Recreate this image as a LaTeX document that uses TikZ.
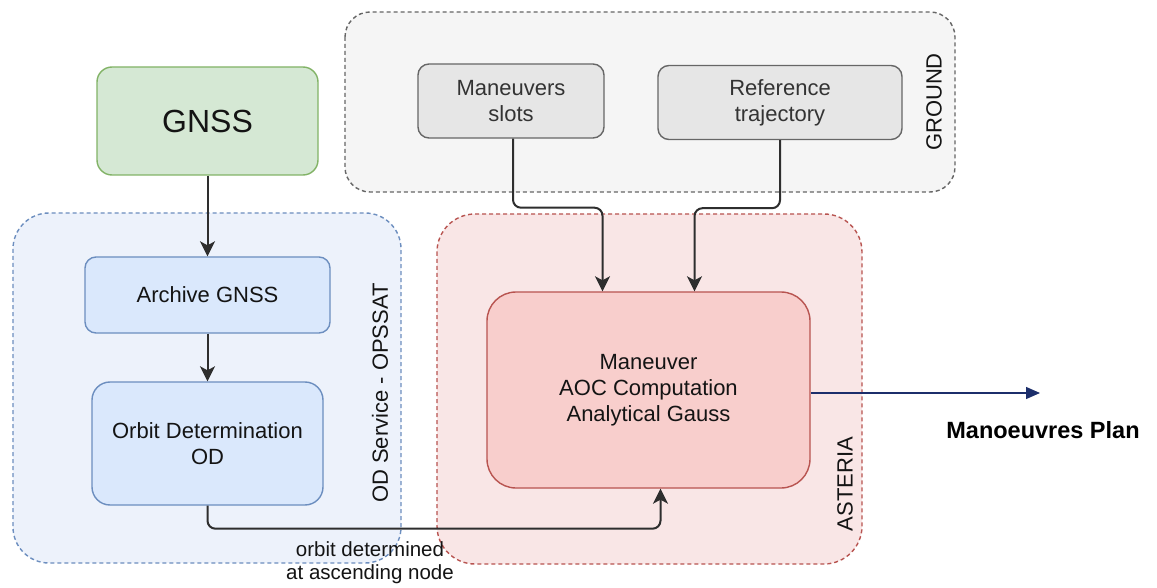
\documentclass[tikz,border=0pt]{standalone}
\usepackage{fontspec}
\setmainfont{Liberation Sans}
\usetikzlibrary{arrows.meta,calc}

\definecolor{greenfill}{HTML}{D5E8D4}
\definecolor{greenline}{HTML}{82B366}
\definecolor{bluefill}{HTML}{DAE8FC}
\definecolor{blueline}{HTML}{6C8EBF}
\definecolor{bluezone}{HTML}{EDF2FB}
\definecolor{greyfill}{HTML}{E6E6E6}
\definecolor{greyline}{HTML}{666666}
\definecolor{greyzone}{HTML}{F5F5F5}
\definecolor{redfill}{HTML}{F8CECC}
\definecolor{redline}{HTML}{B85450}
\definecolor{redzone}{HTML}{F9E6E6}
\definecolor{navy}{HTML}{1C2E6B}
\definecolor{textdark}{HTML}{141414}
\definecolor{textgrey}{HTML}{333333}

\tikzset{
  txt/.style={font=\fontsize{22}{26}\selectfont, text=textdark, align=center},
  zone/.style={line width=1.4pt, dash pattern=on 4pt off 3pt},
  zonelabel/.style={txt, rotate=90},
  block/.style={txt, line width=1.4pt, inner sep=0pt},
  gnssbox/.style={block, draw=greenline, fill=greenfill, rounded corners=15pt,
    minimum width=221pt, minimum height=108pt, font=\fontsize{32}{36}\selectfont},
  odbox/.style={block, draw=blueline, fill=bluefill},
  groundbox/.style={block, draw=greyline, fill=greyfill, text=textgrey,
    rounded corners=11pt, minimum height=74pt},
  aocbox/.style={block, draw=redline, fill=redfill, rounded corners=29pt,
    minimum width=323pt, minimum height=196pt},
  flow/.style={line width=2pt, draw=black!82, rounded corners=8pt,
    -{Stealth[length=15pt,width=15pt,inset=4pt]}},
  outflow/.style={line width=1.2pt, draw=navy,
    -{Triangle[length=14pt,width=12pt]}},
}

\begin{document}
\begin{tikzpicture}[x=1pt,y=-1pt]
  \useasboundingbox[fill=white] (0,0) rectangle (1157,588);

  % grouping zones
  \draw[zone, draw=greyline, fill=greyzone, rounded corners=25pt]
    (345,12) rectangle (955,192);
  \draw[zone, draw=blueline, fill=bluezone, rounded corners=36pt]
    (13,213) rectangle (401,563);
  \draw[zone, draw=redline, fill=redzone, rounded corners=38pt]
    (437,214) rectangle (862,564);

  \node[zonelabel] (groundlbl) at (934,102) {GROUND};
  \node[zonelabel] (odsvclbl) at (380,393) {OD Service - OPSSAT};
  \node[zonelabel] (asterialbl) at (845,484) {ASTERIA};

  % blocks
  \node[gnssbox] (gnss) at (207.5,121) {GNSS};
  \node[odbox, rounded corners=11pt, minimum width=245pt, minimum height=76pt]
    (archive) at (207.5,295) {Archive GNSS};
  \node[odbox, rounded corners=18pt, minimum width=231pt, minimum height=123pt]
    (od) at (207.5,443.5) {Orbit Determination\\OD};
  \node[groundbox, minimum width=186pt] (slots) at (511,101) {Maneuvers\\slots};
  \node[groundbox, minimum width=244pt] (reftraj) at (780,102.5) {Reference\\trajectory};
  \node[aocbox] (aoc) at (648.5,390) {Maneuver\\AOC Computation\\Analytical Gauss};

  % data flow
  \draw[flow] (gnss.south) -- (archive.north);
  \draw[flow] (archive.south) -- (od.north);
  \draw[flow] ([xshift=2pt]slots.south) -- ++(0,69) -| ([xshift=-46pt]aoc.north);
  \draw[flow] (reftraj.south) -- ++(0,68) -| ([xshift=46pt]aoc.north);
  \draw[flow] (od.south) -- ++(0,23) -| ([xshift=12pt]aoc.south);
  \node[txt, font=\fontsize{20.5}{23}\selectfont] (odlbl) at (370,562.5)
    {orbit determined\\at ascending node};

  \coordinate (planend) at (1040,393);
  \draw[outflow] (aoc.east |- planend) -- (planend);
  \node[txt, font=\bfseries\fontsize{23.5}{27}\selectfont, text=black]
    (plan) at (1043,430) {Manoeuvres Plan};
\end{tikzpicture}
\end{document}
